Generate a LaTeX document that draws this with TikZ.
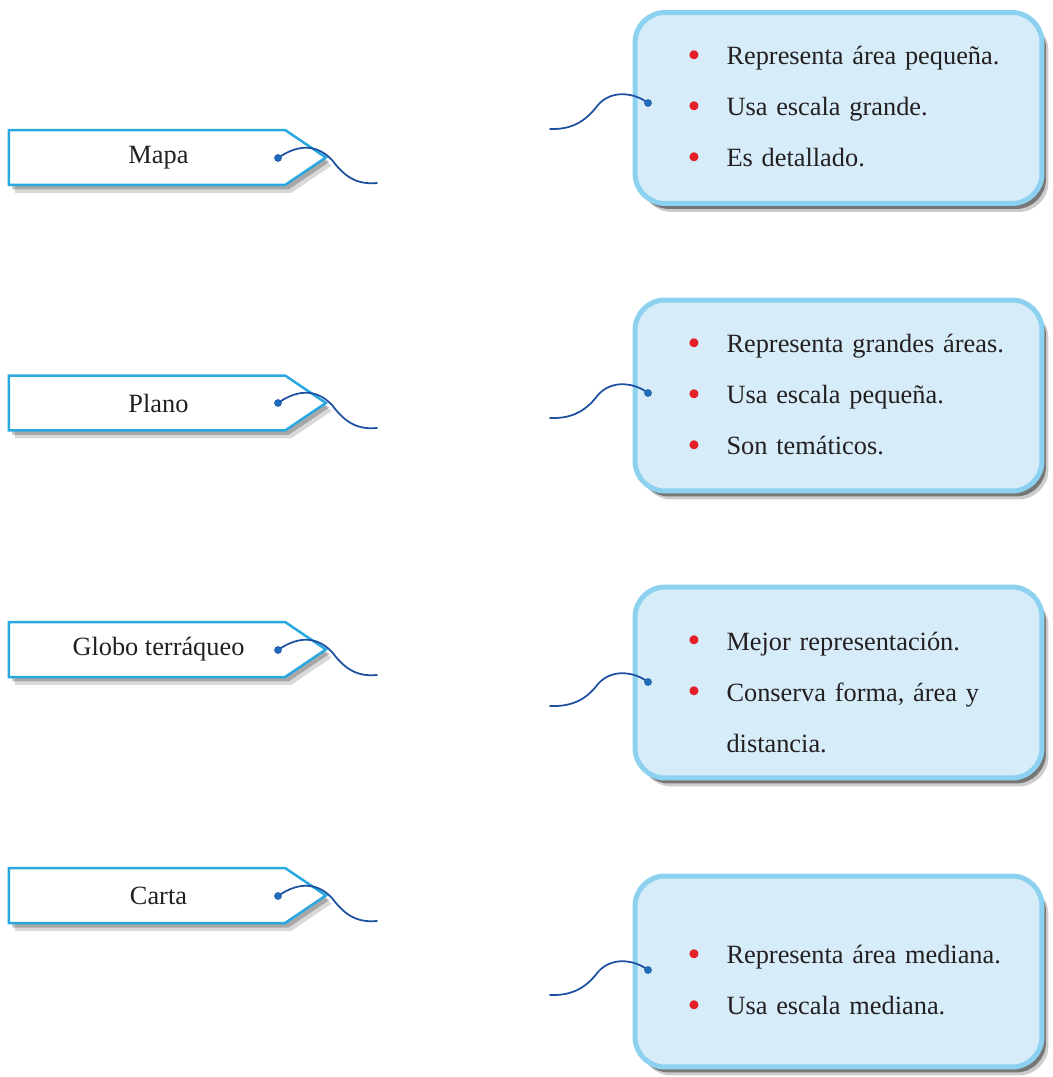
\documentclass[tikz,border=0pt]{standalone}
\usepackage{fontspec}
\setmainfont{Liberation Serif}
\usepackage{xcolor}
\usepackage{tikz}
\usetikzlibrary{shapes.symbols, shadows}
\definecolor{bordetag}{RGB}{41,168,224}
\definecolor{fondocaja}{RGB}{214,236,249}
\definecolor{bordecaja}{RGB}{140,210,240}
\definecolor{hilo}{RGB}{30,80,160}
\definecolor{ojal}{RGB}{30,110,190}
\definecolor{vinetaroja}{RGB}{228,30,38}
\definecolor{tinta}{RGB}{35,31,32}
\newcommand{\vineta}{\hspace*{0.48cm}\makebox[0.78cm][l]{\raisebox{-1.6pt}{\fontsize{21}{21}\selectfont\textcolor{vinetaroja}{\textbullet}}}}
\newcommand{\holgura}{\rule{0pt}{0.75cm}}

\begin{document}
\begin{tikzpicture}[
    x=0.02cm, y=-0.02cm,
    tag/.style={signal, signal to=east, signal pointer angle=68, draw=bordetag, line width=0.05cm, fill=white,
        minimum width=6.34cm, minimum height=1.1cm, inner sep=0pt, font=\fontsize{15}{18}\selectfont, text=tinta,
        execute at begin node={\hspace*{0.46cm}},
        drop shadow={shadow xshift=0.12cm, shadow yshift=-0.16cm, fill=black, opacity=0.15},
        drop shadow={shadow xshift=0.07cm, shadow yshift=-0.09cm, fill=black!70, opacity=0.35}},
    caja/.style={rectangle, rounded corners=0.6cm, draw=bordecaja, line width=0.1cm, fill=fondocaja,
        text width=7cm, inner xsep=0.57cm, minimum height=3.82cm, align=left, text=tinta,
        font=\fontsize{15}{29}\selectfont,
        drop shadow={shadow xshift=0.13cm, shadow yshift=-0.17cm, fill=black, opacity=0.2},
        drop shadow={shadow xshift=0.08cm, shadow yshift=-0.11cm, fill=black!80, opacity=0.55}},
    ojo/.style={circle, fill=ojal, draw=hilo, line width=0.3pt, inner sep=0pt, minimum size=0.14cm},
    cuerda/.style={hilo, line width=0.035cm, line cap=round}
]
\useasboundingbox (0,0) rectangle (1052,1077);

% etiquetas
\node[tag] (mapa) at (147,157.5) {Mapa};
\node[tag] (plano) at (147,403) {Plano};
\node[tag] (globo) at (147,649.5) {Globo terráqueo};
\node[tag] (carta) at (147,895.5) {Carta};

% cajas
\node[caja] (cajaMapa) at (838.5,108) {\vineta Representa área pequeña.\\
    \vineta Usa escala grande.\\
    \vineta Es detallado.};
\node[caja] (cajaPlano) at (838.5,395.5) {\vineta Representa grandes áreas.\\
    \vineta Usa escala pequeña.\\
    \vineta Son temáticos.};
\node[caja] (cajaGlobo) at (838.5,682.5) {\holgura\vineta Mejor representación.\\
    \vineta Conserva forma, área y\\
    \hspace*{1.26cm}distancia.};
\node[caja] (cajaCarta) at (838.5,971.5) {\holgura\vineta Representa área mediana.\\
    \vineta Usa escala mediana.};

% hilos de las etiquetas
\coordinate (finMapa) at (377,183);
\coordinate (finPlano) at (377,428);
\coordinate (finGlobo) at (377,675);
\coordinate (finCarta) at (377,921);
\draw[cuerda] (278,158) .. controls (295,146) and (315,142) .. (332,160) .. controls (344,176) and (356,185) .. (finMapa);
\draw[cuerda] (278,403) .. controls (295,391) and (315,387) .. (332,405) .. controls (344,421) and (356,430) .. (finPlano);
\draw[cuerda] (278,650) .. controls (295,638) and (315,634) .. (332,652) .. controls (344,668) and (356,677) .. (finGlobo);
\draw[cuerda] (278,896) .. controls (295,884) and (315,880) .. (332,898) .. controls (344,914) and (356,923) .. (finCarta);
\node[ojo] (ojoMapa) at (278,158) {};
\node[ojo] (ojoPlano) at (278,403) {};
\node[ojo] (ojoGlobo) at (278,650) {};
\node[ojo] (ojoCarta) at (278,896) {};

% hilos de las cajas
\coordinate (colaMapa) at (550,129);
\coordinate (colaPlano) at (550,418);
\coordinate (colaGlobo) at (550,706);
\coordinate (colaCarta) at (550,995);
\draw[cuerda] (648,103) .. controls (635,93) and (612,89) .. (598,105) .. controls (588,118) and (575,130) .. (colaMapa);
\draw[cuerda] (648,393) .. controls (635,383) and (612,379) .. (598,395) .. controls (588,408) and (575,419) .. (colaPlano);
\draw[cuerda] (648,682) .. controls (635,672) and (612,668) .. (598,684) .. controls (588,697) and (575,707) .. (colaGlobo);
\draw[cuerda] (648,970) .. controls (635,960) and (612,956) .. (598,972) .. controls (588,985) and (575,996) .. (colaCarta);
\node[ojo] (puntoMapa) at (648,103) {};
\node[ojo] (puntoPlano) at (648,393) {};
\node[ojo] (puntoGlobo) at (648,682) {};
\node[ojo] (puntoCarta) at (648,970) {};
\end{tikzpicture}
\end{document}
